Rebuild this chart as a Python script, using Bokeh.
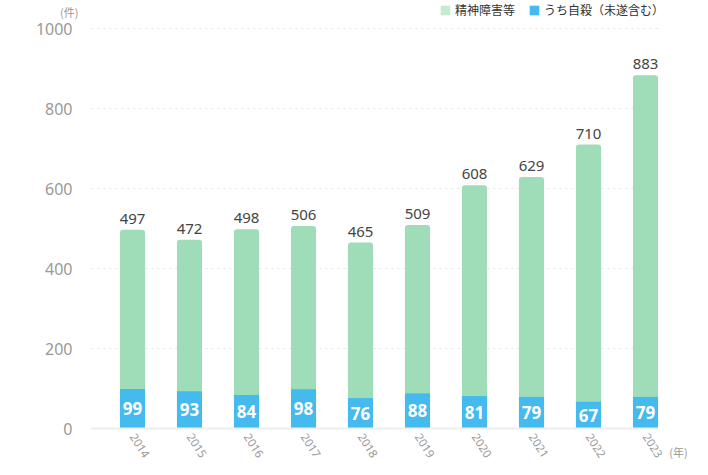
from bokeh.plotting import figure
from bokeh.models import ColumnDataSource, Range1d, FixedTicker, Legend, LegendItem, Label
from bokeh.embed import file_html
from bokeh.resources import INLINE

years = ["2014", "2015", "2016", "2017", "2018", "2019", "2020", "2021", "2022", "2023"]
totals = [497, 472, 498, 506, 465, 509, 608, 629, 710, 883]
suicides = [99, 93, 84, 98, 76, 88, 81, 79, 67, 79]
y_ticks = [0, 200, 400, 600, 800, 1000]
series_names = ["精神障害等", "うち自殺（未遂含む）"]

GREEN = "#9fdcb8"
GREEN_KEY = "#c2ebcf"
BLUE = "#44baee"
JP = "Noto Sans CJK JP"
NUM = "Noto Sans"

# layout (canvas pixels)
W, H = 692, 459
X0, DX = 132, 57          # first bar centre, bar spacing
Y0, DY = 428, 0.4         # baseline, px per unit
AREA_L, AREA_R = 91, 658  # plot area left/right

def xd(px):
    return (px - X0) / DX

def yd(py):
    return (Y0 - py) / DY

x_lo, x_hi = xd(AREA_L), xd(AREA_R)

xs = list(range(len(years)))
src = ColumnDataSource(dict(
    x=xs,
    total=totals,
    sui=suicides,
    mid=[s / 2 for s in suicides],
    tl=[str(t) for t in totals],
    sl=[str(s) for s in suicides],
))

p = figure(width=W, height=H, output_backend="svg", toolbar_location=None,
           x_range=Range1d(xd(0), xd(W)), y_range=Range1d(yd(H), yd(0)),
           min_border_left=0, min_border_right=0, min_border_top=0, min_border_bottom=0)
p.outline_line_color = None
p.background_fill_color = "white"
p.border_fill_color = "white"

# dotted grid lines limited to the plot area
p.segment(x0=[x_lo] * len(y_ticks), x1=[x_hi] * len(y_ticks), y0=y_ticks, y1=y_ticks,
          line_color="#e3e3e3", line_dash="2 4", line_width=1)
p.xgrid.visible = False
p.ygrid.visible = False

p.vbar(x="x", width=0.44, bottom=0, top="total", source=src, fill_color=GREEN,
       line_color=None, border_radius=(3, 3, 0, 0))
b = p.vbar(x="x", width=0.44, bottom=0, top="sui", source=src, fill_color=BLUE, line_color=None)
# legend key proxy (zero-height bars; lighter green swatch as in the original legend)
g_key = p.vbar(x="x", width=0.44, bottom=0, top=0, source=src, fill_color=GREEN_KEY, line_color=None)

p.text(x="x", y="total", text="tl", source=src, text_align="center", text_baseline="bottom",
       y_offset=-6, text_font_size="15px", text_color="#444444", text_font={"value": NUM})
p.text(x="x", y="mid", text="sl", source=src, text_align="center", text_baseline="middle",
       text_font_size="17px", text_font_style="bold", text_color="white", text_font={"value": NUM})

# axes
p.xaxis.fixed_location = 0
p.xaxis.bounds = (x_lo, x_hi)
p.xaxis.ticker = FixedTicker(ticks=xs)
p.xaxis.major_label_overrides = {i: y for i, y in enumerate(years)}
p.xaxis.major_label_orientation = -1.0
p.xaxis.major_tick_line_color = None
p.xaxis.minor_tick_line_color = None
p.xaxis.axis_line_color = "#eeeeee"
p.xaxis.axis_line_width = 2
p.xaxis.major_label_text_color = "#999999"
p.xaxis.major_label_text_font_size = "11.5px"
p.xaxis.major_label_text_font = NUM
p.xaxis.major_label_standoff = 0

p.yaxis.fixed_location = x_lo
p.yaxis.ticker = FixedTicker(ticks=y_ticks)
p.yaxis.axis_line_color = None
p.yaxis.major_tick_line_color = None
p.yaxis.minor_tick_line_color = None
p.yaxis.major_label_text_color = "#999999"
p.yaxis.major_label_text_font_size = "16px"
p.yaxis.major_label_text_font = NUM
p.yaxis.major_label_standoff = 13

p.add_layout(Label(x=xd(78), y=yd(11), text="(件)", text_align="right", text_baseline="middle",
                   text_font_size="11px", text_color="#999999", text_font=JP))
p.add_layout(Label(x=xd(678), y=yd(451), text="(年)", text_align="center", text_baseline="middle",
                   text_font_size="11px", text_color="#999999", text_font=JP))

legend = Legend(items=[LegendItem(label=series_names[0], renderers=[g_key]),
                       LegendItem(label=series_names[1], renderers=[b])],
                orientation="horizontal", location=(439, H - 18),
                label_text_font=JP, label_text_font_size="12px", label_text_color="#333333",
                glyph_width=12, glyph_height=12, label_standoff=4, spacing=13,
                padding=0, margin=0, border_line_color=None, background_fill_alpha=0)
p.add_layout(legend)

open("out.html", "w").write(file_html(p, INLINE))
